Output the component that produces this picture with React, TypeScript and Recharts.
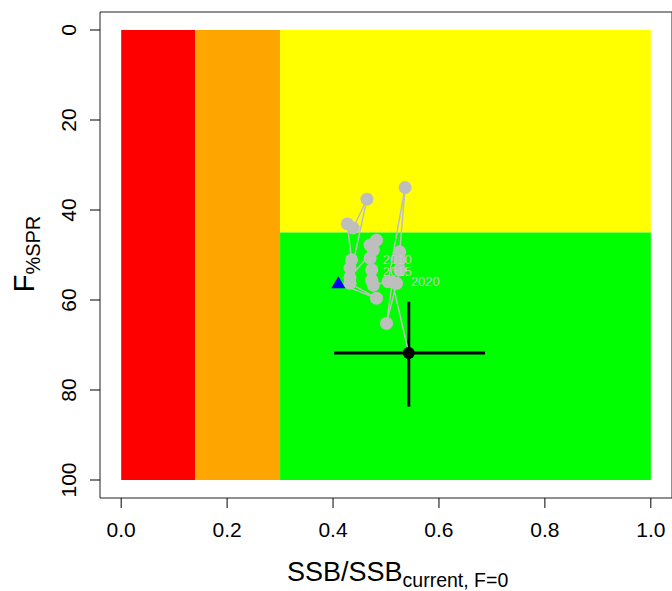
import React from "react"
import { ScatterChart, Scatter, XAxis, YAxis, ReferenceArea, ErrorBar } from "recharts"

// trajectory of SSB ratio (x) vs F%SPR (y); first = start year, last = current estimate
const trajX = [0.41, 0.482, 0.432, 0.432, 0.435, 0.427, 0.438, 0.464, 0.432, 0.476, 0.47, 0.482, 0.47, 0.473, 0.473, 0.476, 0.504, 0.536, 0.526, 0.526, 0.526, 0.52, 0.501, 0.512, 0.543]
const trajY = [56.3, 59.6, 56.3, 52.9, 51.1, 43.1, 44.0, 37.6, 55.0, 48.9, 47.8, 46.7, 50.7, 53.3, 55.6, 56.7, 55.9, 35.0, 49.3, 51.1, 53.3, 56.3, 65.2, 56.0, 71.8]

const currentX = 0.543
const currentY = 71.8
const currentXErr = [0.141, 0.144]
const currentYErr = [11.4, 11.9]

const yearLabels = ["2010", "2015", "2020"]
const yearLabelX = [0.494, 0.494, 0.547]
const yearLabelY = [51.1, 53.7, 55.9]

const xTicks = [0, 0.2, 0.4, 0.6, 0.8, 1.0]
const yTicks = [0, 20, 40, 60, 80, 100]

// zones: [x1, x2, y1, y2, colour]
const zones: [number, number, number, number, string][] = [
  [0, 0.14, 0, 100, "#FF0000"],
  [0.14, 0.3, 0, 100, "#FFA500"],
  [0.3, 1.0, 0, 45, "#FFFF00"],
  [0.3, 1.0, 45, 100, "#00FF00"],
]

const FONT = "'Liberation Sans', Arial, sans-serif"
const GREY = "#BEBEBE"

const trajData = trajX.map((x, i) => ({ x, y: trajY[i], dot: i > 0 && i < trajX.length - 1 }))
const startData = [{ x: trajX[0], y: trajY[0] }]
const currentData = [{ x: currentX, y: currentY, ex: currentXErr, ey: currentYErr }]
const labelData = yearLabels.map((t, i) => ({ x: yearLabelX[i], y: yearLabelY[i], t }))

const XTick = (props: any) => (
  <text x={props.x} y={props.y} textAnchor="middle" dominantBaseline="central" fontSize={21} fontFamily={FONT} fill="#000">
    {Number(props.payload.value).toFixed(1)}
  </text>
)

const YTick = (props: any) => (
  <text
    x={props.x}
    y={props.y}
    textAnchor="middle"
    dominantBaseline="central"
    fontSize={21}
    fontFamily={FONT}
    fill="#000"
    transform={`rotate(-90, ${props.x}, ${props.y})`}
  >
    {props.payload.value}
  </text>
)

const XLabel = () => (
  <text x={287} y={581} fontFamily={FONT} fontSize={27} fill="#000">
    SSB/SSB
    <tspan fontSize={19.5} dy={6}>current, F=0</tspan>
  </text>
)

const YLabel = () => (
  <text x={34} y={254} textAnchor="middle" fontFamily={FONT} fontSize={29} fill="#000" transform="rotate(-90, 34, 254)">
    F<tspan fontSize={20} dy={6}>%SPR</tspan>
  </text>
)

const TrajDot = (props: any) =>
  props.payload && props.payload.dot ? <circle cx={props.cx} cy={props.cy} r={6.5} fill={GREY} /> : <g />

const Triangle = (props: any) => {
  const { cx, cy } = props
  return <polygon points={`${cx - 7},${cy + 5} ${cx + 7},${cy + 5} ${cx},${cy - 7}`} fill="#0000FF" />
}

const CurrentDot = (props: any) => <circle cx={props.cx} cy={props.cy} r={6} fill="#000" />

const YearText = (props: any) => (
  <text x={props.cx} y={props.cy} dominantBaseline="central" fontSize={13} fontFamily={FONT} fill="#C8C8C8">
    {props.payload.t}
  </text>
)

export default function App() {
  return (
    <div style={{ position: "absolute", left: 0, top: 0, background: "#fff" }}>
      <ScatterChart width={672} height={591} margin={{ top: 12, right: 0, bottom: 0, left: 0 }}>
        <XAxis
          type="number"
          dataKey="x"
          domain={[-0.04, 1.04]}
          ticks={xTicks}
          allowDataOverflow
          height={93}
          axisLine={false}
          tickLine={{ stroke: "#000" }}
          tickSize={10}
          tickMargin={21}
          tick={<XTick />}
          label={<XLabel />}
        />
        <YAxis
          type="number"
          dataKey="y"
          domain={[-4, 104]}
          reversed
          ticks={yTicks}
          allowDataOverflow
          width={100}
          axisLine={false}
          tickLine={{ stroke: "#000" }}
          tickSize={10}
          tickMargin={22}
          tick={<YTick />}
          label={<YLabel />}
        />
        {zones.map(([x1, x2, y1, y2, c], i) => (
          <ReferenceArea key={i} x1={x1} x2={x2} y1={y1} y2={y2} fill={c} fillOpacity={1} stroke="none" />
        ))}
        <ReferenceArea x1={-0.04} x2={1.04} y1={-4} y2={104} fill="none" stroke="#222" strokeWidth={1} />
        <Scatter
          data={trajData}
          line={{ stroke: GREY, strokeWidth: 1.5 }}
          shape={<TrajDot />}
          isAnimationActive={false}
        />
        <Scatter data={labelData} shape={<YearText />} isAnimationActive={false} />
        <Scatter data={startData} shape={<Triangle />} isAnimationActive={false} />
        <Scatter data={currentData} shape={<CurrentDot />} isAnimationActive={false}>
          <ErrorBar dataKey="ex" direction="x" width={0} stroke="#000" strokeWidth={3} />
          <ErrorBar dataKey="ey" direction="y" width={0} stroke="#000" strokeWidth={3} />
        </Scatter>
      </ScatterChart>
    </div>
  )
}
